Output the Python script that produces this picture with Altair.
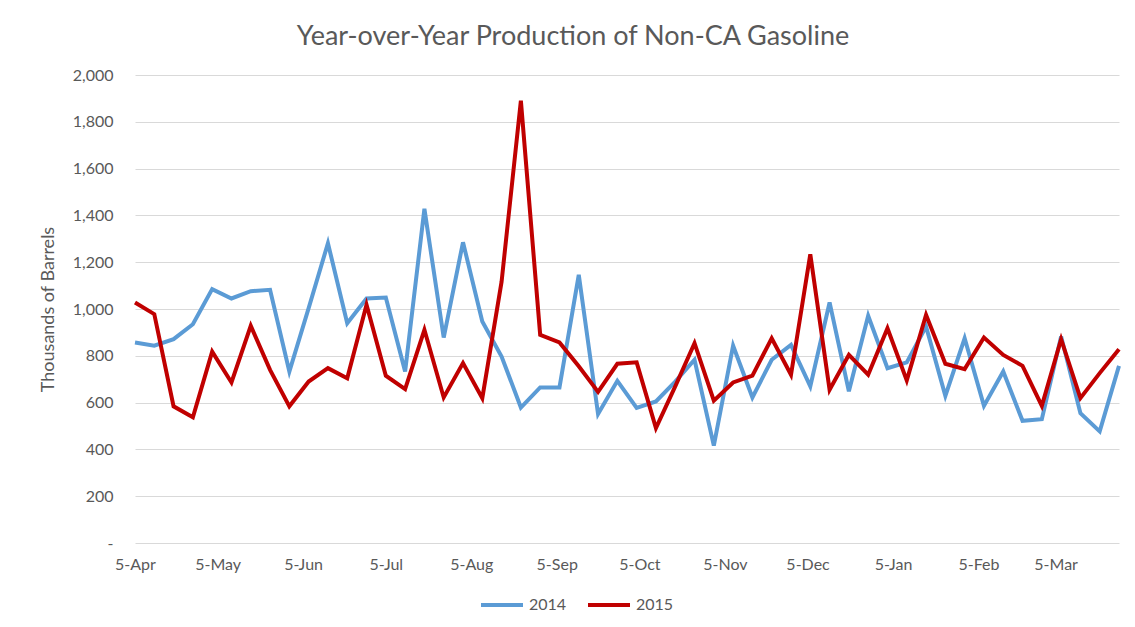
import altair as alt
import pandas as pd

# Weekly dates (x categories), starting 5-Apr
week_start = "2014-04-05"
n_weeks = 52

# Thousands of barrels
prod_2014 = [857, 843, 871, 935, 1085, 1045, 1076, 1082, 733, 1004,
             1281, 939, 1045, 1049, 733, 1428, 878, 1285, 947, 797,
             579, 665, 665, 1146, 551, 693, 577, 605, 690, 783,
             416, 843, 622, 783, 847, 669, 1028, 648, 971, 747,
             772, 925, 629, 875, 586, 733, 522, 529, 883, 555,
             477, 757]
prod_2015 = [1028, 978, 584, 537, 818, 686, 928, 740, 584, 690,
             747, 704, 1018, 715, 658, 911, 622, 769, 619, 1117,
             1890, 890, 857, 755, 646, 766, 772, 491, 669, 854,
             608, 686, 715, 875, 719, 1234, 655, 804, 719, 918,
             695, 975, 766, 743, 878, 804, 757, 586, 871, 619,
             726, 828]

series_names = ["2014", "2015"]
series_colors = ["#5B9BD5", "#C00000"]
y_ticks = [0, 200, 400, 600, 800, 1000, 1200, 1400, 1600, 1800, 2000]
x_tick_dates = ["2014-04-05", "2014-05-05", "2014-06-05", "2014-07-05",
                "2014-08-05", "2014-09-05", "2014-10-05", "2014-11-05",
                "2014-12-05", "2015-01-05", "2015-02-05", "2015-03-05"]

dates = pd.date_range(week_start, periods=n_weeks, freq="7D", tz="UTC")
rows = []
for name, vals in zip(series_names, [prod_2014, prod_2015]):
    for d, v in zip(dates, vals):
        rows.append({"date": d.strftime("%Y-%m-%d"), "value": v, "series": name})
df = pd.DataFrame(rows)

def ms(s):
    return int(pd.Timestamp(s, tz="UTC").value // 10**6)

x_domain = [ms(dates[0].strftime("%Y-%m-%d")), ms(dates[-1].strftime("%Y-%m-%d"))]
x_values = [ms(s) for s in x_tick_dates]

FONT = "Lato"
GREY = "#595959"

chart = alt.Chart(df).mark_line(strokeWidth=4, strokeJoin="miter").encode(
    x=alt.X("date:T",
            scale=alt.Scale(type="utc", domain=x_domain, nice=False),
            axis=alt.Axis(values=x_values, labelExpr="utcFormat(datum.value, '%-d-%b')",
                          title=None, grid=False, domain=False, ticks=False,
                          labelPadding=13, labelFontSize=16, labelColor=GREY,
                          labelFont=FONT, labelAlign="center")),
    y=alt.Y("value:Q",
            scale=alt.Scale(domain=[0, 2000], nice=False),
            axis=alt.Axis(values=y_ticks,
                          labelExpr="datum.value == 0 ? '-\u00a0\u00a0\u00a0' : format(datum.value, ',')",
                          title="Thousands of Barrels", titleFontSize=18, titleColor=GREY,
                          titleFont=FONT, titleFontWeight="normal", titlePadding=15,
                          grid=True, gridColor="#D9D9D9", gridWidth=1,
                          domain=False, ticks=False, labelPadding=22,
                          labelFontSize=16, labelColor=GREY, labelFont=FONT)),
    color=alt.Color("series:N",
                    scale=alt.Scale(domain=series_names, range=series_colors),
                    legend=alt.Legend(title=None, orient="none", direction="horizontal",
                                      legendX=344, legendY=507,
                                      symbolType="stroke", symbolSize=1764,
                                      symbolStrokeWidth=4, labelFontSize=16,
                                      labelColor=GREY, labelFont=FONT,
                                      labelOffset=4, columnPadding=13)),
).properties(
    width=984,
    height=468,
    title=alt.Title("Year-over-Year Production of Non-CA Gasoline",
                    fontSize=27, font=FONT, fontWeight="normal", color=GREY,
                    anchor="middle", dx=-54, offset=16),
    padding={"left": 127, "top": 67, "right": 5, "bottom": 70},
    autosize=alt.AutoSizeParams(type="none"),
).configure_view(stroke=None)

chart.save("out.html", embed_options={"renderer": "svg", "actions": False})
